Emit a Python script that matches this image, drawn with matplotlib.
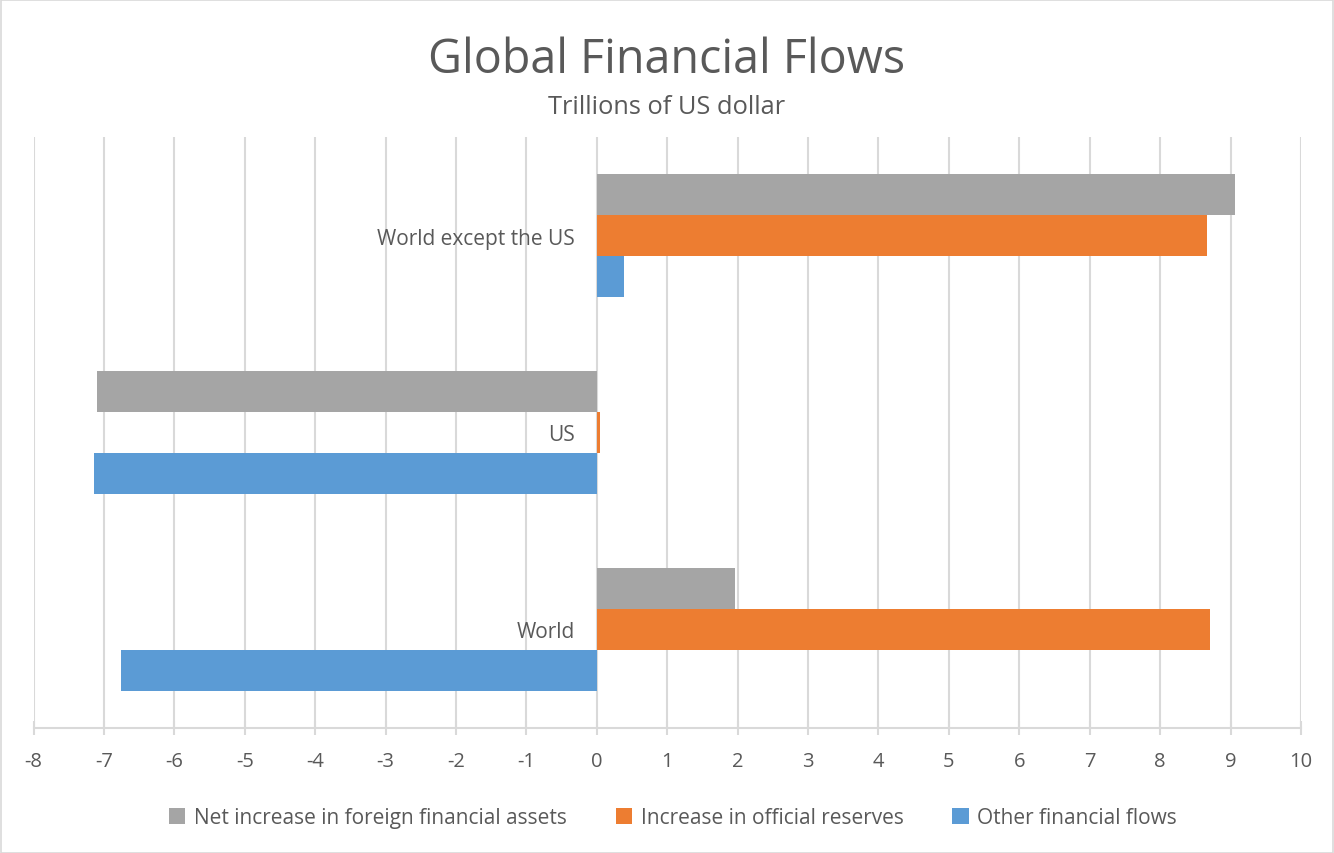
import matplotlib
matplotlib.use("Agg")
import matplotlib.pyplot as plt
from matplotlib.patches import Rectangle
import numpy as np

plt.rcParams['font.family'] = ['Open Sans', 'DejaVu Sans']
plt.rcParams['axes.unicode_minus'] = False

# Data (trillions of US dollars)
regions = ["World", "US", "World except the US"]
net_foreign_assets = [1.96, -7.10, 9.06]
official_reserves = [8.71, 0.04, 8.66]
other_flows = [-6.76, -7.14, 0.39]

series_names = ["Net increase in foreign financial assets",
                "Increase in official reserves",
                "Other financial flows"]
series_colors = ["#A5A5A5", "#ED7D31", "#5B9BD5"]
x_ticks = list(range(-8, 11))

TEXT = "#595959"
GRID = "#D9D9D9"

fig = plt.figure(figsize=(13.34, 8.54), dpi=100)
ax = fig.add_axes([33.5 / 1334, 1 - 729 / 854, (1301 - 33.5) / 1334, (729 - 138) / 854])

y = np.arange(len(regions))
h = 0.207
offsets = [h, 0.0, -h]
handles = []
for vals, off, col, name in zip([net_foreign_assets, official_reserves, other_flows],
                                offsets, series_colors, series_names):
    b = ax.barh(y + off, vals, height=h, color=col, label=name, zorder=3)
    handles.append(b)

ax.set_xlim(-8, 10)
ax.set_ylim(-0.5, 2.5)
ax.set_xticks(x_ticks)
ax.set_xticklabels([str(t) for t in x_ticks])
ax.xaxis.grid(True, color=GRID, linewidth=1.5, zorder=0)
ax.set_axisbelow(True)

for s in ["top", "right"]:
    ax.spines[s].set_visible(False)
ax.spines["bottom"].set_color(GRID)
ax.spines["bottom"].set_linewidth(1.5)
ax.spines["left"].set_position(("data", 0))
ax.spines["left"].set_visible(False)

ax.tick_params(axis="x", direction="inout", length=9.5, width=1.5, color=GRID,
               labelsize=14.5, labelcolor=TEXT, pad=11.5)
ax.set_yticks(y)
ax.set_yticklabels(regions)
ax.tick_params(axis="y", length=0, labelsize=15, labelcolor=TEXT, pad=16)

fig.text(0.5, 1 - 60 / 854, "Global Financial Flows", ha="center", va="center",
         fontsize=33.6, color=TEXT)
fig.text(0.5, 1 - 107 / 854, "Trillions of US dollar", ha="center", va="center",
         fontsize=18.3, color=TEXT)

fig.legend(handles=handles, labels=series_names, loc="center",
           bbox_to_anchor=(673 / 1334, 1 - 819 / 854), ncol=3, frameon=False,
           fontsize=15, labelcolor=TEXT, handlelength=0.8, handleheight=0.8,
           handletextpad=0.4, columnspacing=2.35)

fig.patches.append(Rectangle((0.5 / 1334, 0.5 / 854), 1 - 1.5 / 1334, 1 - 1.5 / 854,
                             transform=fig.transFigure, fill=False,
                             edgecolor=GRID, linewidth=1.2))

fig.savefig("out.png", dpi=100, facecolor="white")
